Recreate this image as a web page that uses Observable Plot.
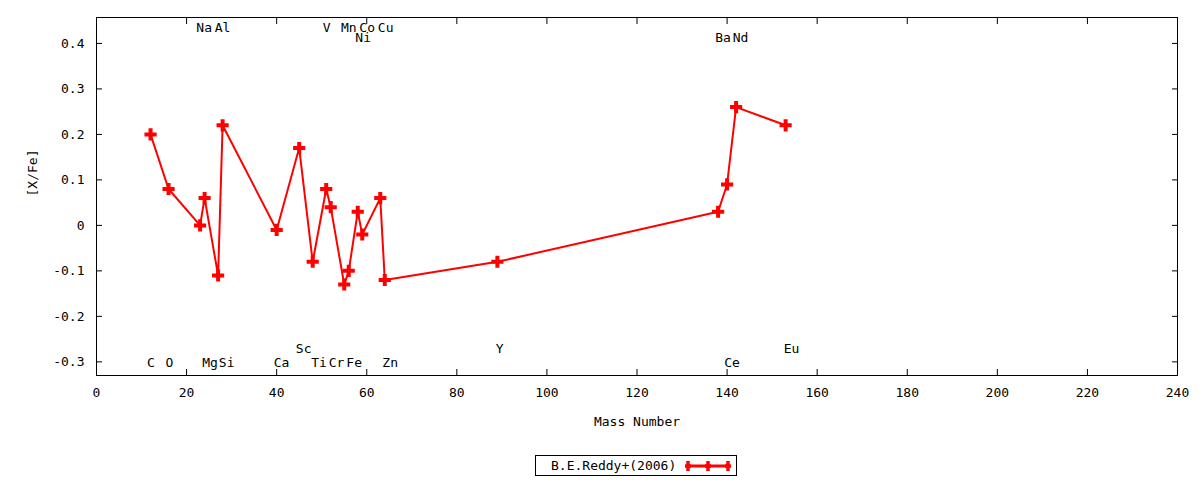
<!DOCTYPE html>
<html>
<head>
<meta charset="utf-8">
<script src="https://cdn.jsdelivr.net/npm/d3@7"></script>
<script src="https://cdn.jsdelivr.net/npm/@observablehq/plot@0.6"></script>
<style>
  body { margin: 0; background: white; font-family: "DejaVu Sans Mono", monospace; }
  #wrap { position: relative; width: 1200px; height: 480px; }
  #leyenda {
    position: absolute; left: 535px; top: 455px; width: 200px; height: 19px;
    border: 1px solid black; font-size: 13px; line-height: 19px;
    display: flex; align-items: center;
  }
  #leyenda span { margin-left: 15px; margin-right: 9px; }
</style>
</head>
<body>
<div id="wrap">
  <div id="grafico"></div>
  <div id="leyenda">
    <span>B.E.Reddy+(2006)</span>
    <svg width="46" height="14">
      <line x1="3" x2="43" y1="7" y2="7" stroke="red" stroke-width="3"/>
      <path d="M3,2V12M0,7H6M23,2V12M20,7H26M43,2V12M40,7H46" stroke="red" stroke-width="3.5"/>
    </svg>
  </div>
</div>
<script>
/* Datos: numero masico y [X/Fe] */
const masas = [12, 16, 23, 24, 27, 28, 40, 45, 48, 51, 52, 55, 56, 58, 59, 63, 64, 89, 138, 140, 142, 153]
const xfe = [0.20, 0.08, 0.00, 0.06, -0.11, 0.22, -0.01, 0.17, -0.08, 0.08, 0.04, -0.13, -0.10, 0.03, -0.02, 0.06, -0.12, -0.08, 0.03, 0.09, 0.26, 0.22]

/* Etiquetas de elementos */
const elementos = ["C", "O", "Na", "Mg", "Al", "Si", "Ca", "Sc", "Ti", "V", "Cr", "Mn", "Fe", "Ni", "Co", "Cu", "Zn", "Y", "Ba", "Ce", "Nd", "Eu"]
const etiquetaX = [12.1, 16.2, 23.9, 25.2, 28, 28.9, 41.1, 46, 49.4, 51.1, 53.3, 56, 57.2, 59.2, 60.1, 64.2, 65.2, 89.5, 139.1, 141.1, 143, 154.3]
const etiquetaY = [-0.303, -0.303, 0.434, -0.303, 0.434, -0.303, -0.303, -0.272, -0.303, 0.434, -0.303, 0.434, -0.303, 0.412, 0.434, 0.434, -0.303, -0.272, 0.412, -0.303, 0.412, -0.272]

const xTicks = d3.range(0, 241, 20)
const yTicks = [-0.3, -0.2, -0.1, 0, 0.1, 0.2, 0.3, 0.4]

const data = masas.map((m, i) => ({masa: m, valor: xfe[i]}))
const etiquetas = elementos.map((e, i) => ({nombre: e, x: etiquetaX[i], y: etiquetaY[i]}))

let chart = Plot.plot({
  width: 1200,
  height: 440,
  marginLeft: 96,
  marginRight: 23,
  marginTop: 17,
  marginBottom: 65,
  style: {fontFamily: '"DejaVu Sans Mono", monospace', fontSize: '13px', color: 'black'},
  x: {domain: [0, 240]},
  y: {domain: [-0.33, 0.457]},
  marks: [
    Plot.frame({stroke: 'black'}),
    // ticks hacia adentro (estilo gnuplot)
    Plot.axisX({anchor: 'bottom', ticks: xTicks, tickSize: -6, text: null, label: null}),
    Plot.axisX({anchor: 'top', ticks: xTicks, tickSize: -6, text: null, label: null}),
    Plot.axisY({anchor: 'left', ticks: yTicks, tickSize: -6, text: null, label: null}),
    Plot.axisY({anchor: 'right', ticks: yTicks, tickSize: -6, text: null, label: null}),
    Plot.axisX({anchor: 'bottom', ticks: xTicks, tickSize: 0, tickPadding: 12, label: null, fill: 'black'}),
    Plot.axisY({anchor: 'left', ticks: yTicks, tickSize: 0, tickPadding: 12, label: null, fill: 'black', tickFormat: d => String(d)}),
    Plot.text(['Mass Number'], {frameAnchor: 'bottom', dy: 50, fill: 'black'}),
    Plot.text(['[X/Fe]'], {frameAnchor: 'left', dx: -64, rotate: -90, fill: 'black'}),
    Plot.text(etiquetas, {x: 'x', y: 'y', text: 'nombre', fill: 'black'}),
    Plot.line(data, {x: 'masa', y: 'valor', stroke: 'red', strokeWidth: 2}),
    Plot.dot(data, {x: 'masa', y: 'valor', symbol: 'plus', r: 4, stroke: 'red', strokeWidth: 4})
  ]
})

d3.select('#grafico').append(() => chart)
</script>
</body>
</html>
